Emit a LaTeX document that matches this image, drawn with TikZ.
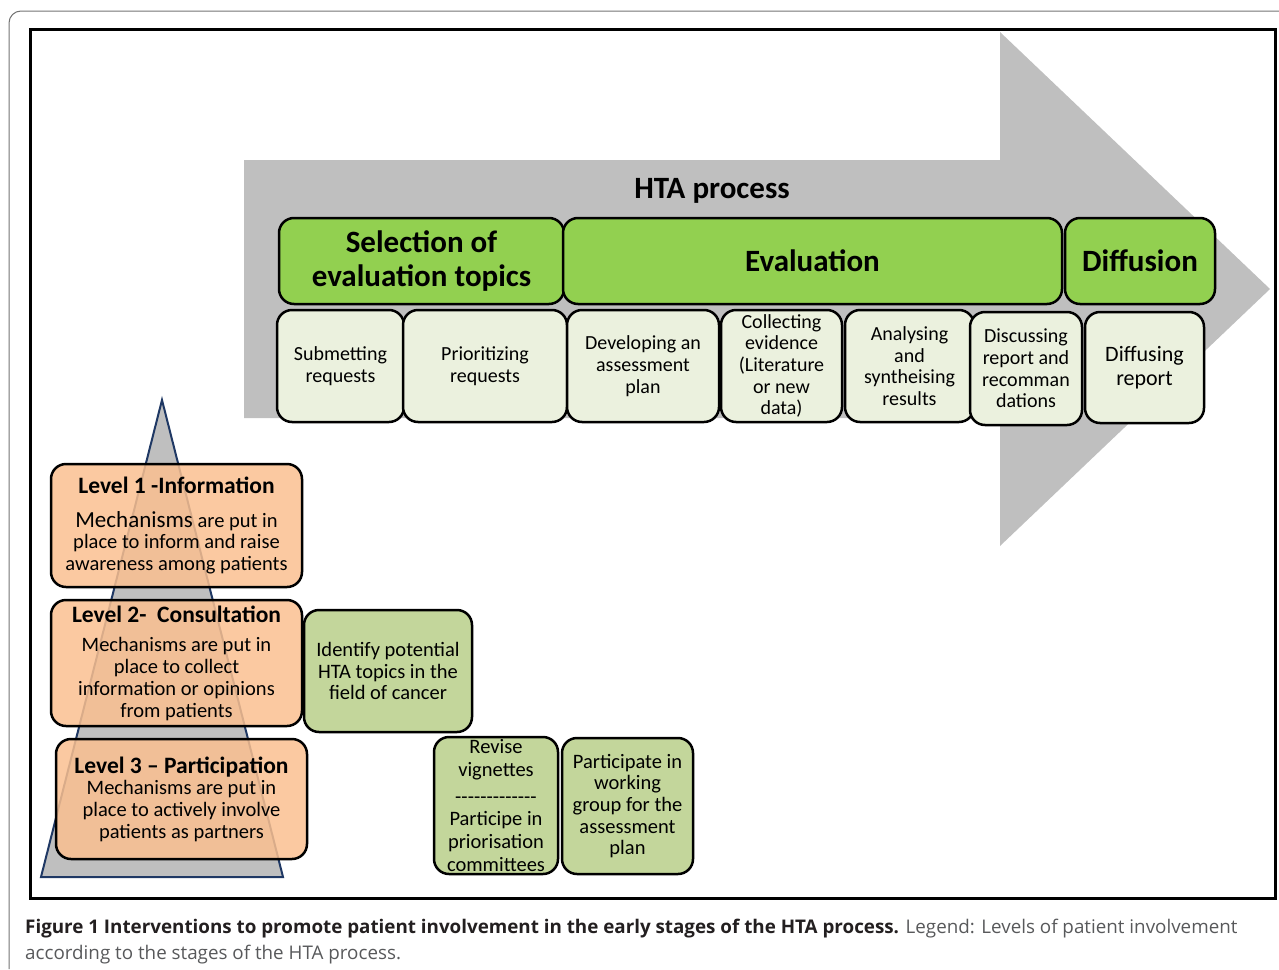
\documentclass[tikz,border=0pt]{standalone}
\usepackage{fontspec}
\setmainfont{Carlito}
\newfontfamily\capfont{Open Sans}
\usetikzlibrary{positioning}

\definecolor{arrowgray}{RGB}{191,191,191}
\definecolor{stagegreen}{RGB}{146,208,80}
\definecolor{stepcream}{RGB}{235,241,222}
\definecolor{levelorange}{RGB}{250,192,144}
\definecolor{actgreen}{RGB}{195,214,155}
\definecolor{pyrnavy}{RGB}{31,56,100}
\definecolor{capgray}{RGB}{88,89,91}
\definecolor{capblack}{RGB}{35,31,32}

\begin{document}
\begin{tikzpicture}[
			x=1pt,y=-1pt,
			box/.style={
				draw,
				line width=2.5pt,
				rounded corners=15pt,
				align=center,
				inner sep=1pt
			},
			stage/.style={box,fill=stagegreen,font=\bfseries\fontsize{31}{37}\selectfont},
			task/.style={box,fill=stepcream,font=\fontsize{20}{21.7}\selectfont},
			level/.style={box,fill=levelorange,fill opacity=0.85,text opacity=1,font=\fontsize{20.5}{21.7}\selectfont},
			act/.style={box,fill=actgreen,font=\fontsize{20.5}{21.7}\selectfont},
			lvtitle/.style={font=\bfseries\fontsize{23.5}{24}\selectfont}
			]
			
			\useasboundingbox (0,0) rectangle (1279,969);
			\draw[black!55,line width=1pt,rounded corners=12pt] (9,969) -- (9,11) -- (1279,11);
			\draw[line width=3pt] (30,29) rectangle (1275,898);
			
			\fill[arrowgray] (244,160) -- (1000,160) -- (1000,32) -- (1270,289)
				-- (1000,546) -- (1000,418) -- (244,418) -- cycle;
			\node[font=\bfseries\fontsize{31}{34}\selectfont] (hta) at (712,191) {HTA process};
			
			\node[stage,minimum width=285pt,minimum height=86pt] (sel) at (421.5,261) {\raisebox{-3pt}{Selection of}\\evaluation topics};
			\node[stage,minimum width=499pt,minimum height=86pt] (eval) at (812.5,261) {Evaluation};
			\node[stage,minimum width=150pt,minimum height=86pt] (diffu) at (1140,261) {Diffusion};
			
			\node[task,minimum width=127pt,minimum height=112pt] (subm) at (340.5,366) {Submetting\\requests};
			\node[task,minimum width=164pt,minimum height=112pt] (prio) at (485,366) {Prioritizing\\requests};
			\node[task,minimum width=152pt,minimum height=112pt] (dev) at (643,366) {Developing an\\assessment\\plan};
			\node[task,minimum width=121pt,minimum height=112pt] (coll) at (781.5,366) {Collecting\\evidence\\(Literature\\or new\\data)};
			\node[task,minimum width=129pt,minimum height=112pt] (anal) at (909.5,366) {Analysing\\and\\syntheising\\results};
			\node[task,minimum width=112pt,minimum height=113pt] (disc) at (1026,368.5) {Discussing\\report and\\recomman\\dations};
			\node[task,minimum width=119pt,minimum height=111pt,font=\fontsize{22}{24}\selectfont] (diff) at (1144.5,367.5) {Diffusing\\report};
			
			\draw[pyrnavy,line width=2pt,fill=arrowgray] (162,400) -- (283,877) -- (41,877) -- cycle;
			
			\node[level,minimum width=251pt,minimum height=123pt] (lv1) at (176.5,525.5)
				{{\bfseries\fontsize{23.5}{24}\selectfont Level 1 -Information}\\[12pt]{\fontsize{23}{21.7}\selectfont Mechanisms} are put in\\place to inform and raise\\awareness among patients};
			\node[level,minimum width=251pt,minimum height=126pt] (lv2) at (176.5,663)
				{{\bfseries\fontsize{23.5}{24}\selectfont Level 2-\ \ Consultation}\\[8pt]Mechanisms are put in\\place to collect\\information or opinions\\from patients};
			\node[level,minimum width=251pt,minimum height=120pt] (lv3) at (181.5,799)
				{{\bfseries\fontsize{23.5}{24}\selectfont Level 3 -- Participation}\\Mechanisms are put in\\place to actively involve\\patients as partners};
			
			\node[act,minimum width=168pt,minimum height=122pt] (ident) at (388,671) {Identify potential\\HTA topics in the\\field of cancer};
			\node[act,minimum width=124pt,minimum height=137pt,font=\fontsize{20.5}{22.8}\selectfont] (revise) at (496,805.5)
				{Revise\\vignettes\\[4pt]-{}-{}-{}-{}-{}-{}-{}-{}-{}-{}-{}-{}-\\Participe in\\priorisation\\committees};
			\node[act,minimum width=131pt,minimum height=136pt] (partic) at (627.5,806) {Participate in\\working\\group for the\\assessment\\plan};
			
			\node[anchor=north west,align=left,inner sep=0pt,font=\capfont\fontsize{18.8}{26}\selectfont] (caption) at (25,919)
				{{\color{capblack}\bfseries Figure 1 Interventions to promote patient involvement in the early stages of the HTA process.} {\color{capgray}Legend: Levels of patient involvement}\\{\color{capgray}according to the stages of the HTA process.}};
			
		\end{tikzpicture}
\end{document}
